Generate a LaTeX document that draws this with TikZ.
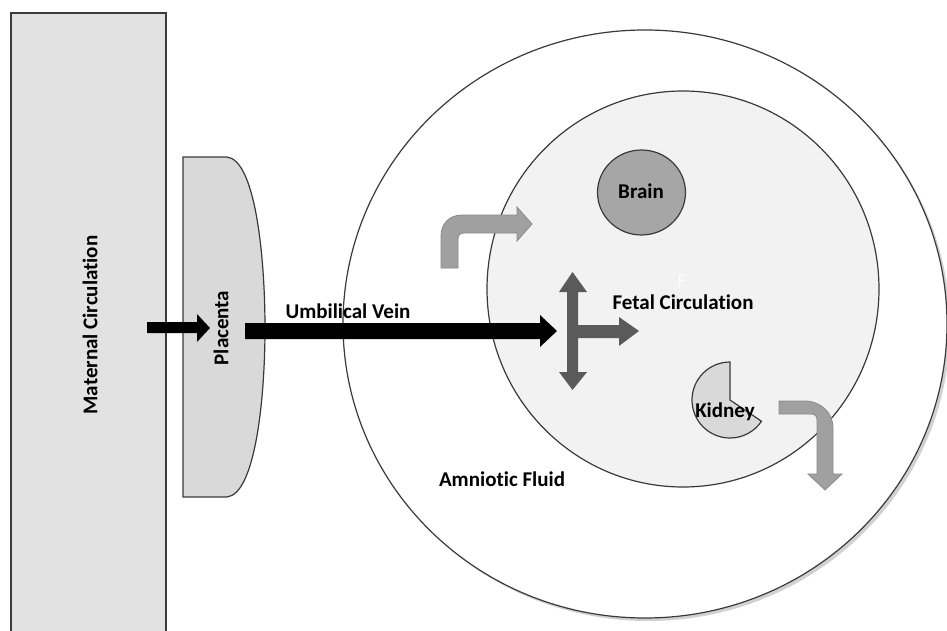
\documentclass[tikz,border=0pt]{standalone}
\usepackage{fontspec}
\setmainfont[Ligatures=NoCommon]{Carlito}
\definecolor{edge}{HTML}{3A3A3A}
\definecolor{matfill}{HTML}{E2E2E2}
\definecolor{plafill}{HTML}{D9D9D9}
\definecolor{fetfill}{HTML}{F2F2F2}
\definecolor{brainfill}{HTML}{A6A6A6}
\definecolor{bentfill}{HTML}{A0A0A0}
\definecolor{bentedge}{HTML}{8A8A8A}
\definecolor{crossfill}{HTML}{5A5A5A}
\tikzset{
  organ/.style={draw=edge,line width=1.2pt},
  lbl/.style={font=\fontsize{21}{25}\selectfont\bfseries,text=black,inner sep=0pt},
  blockblack/.style={fill=black},
  bentarrow/.style={fill=bentfill,draw=bentedge,line width=0.8pt},
  crossarrow/.style={fill=crossfill},
}
\begin{document}
\begin{tikzpicture}[x=1pt,y=-1pt]
\useasboundingbox (0,0) rectangle (947,631);
\clip (0,0) rectangle (947,631);
\fill[white] (0,0) rectangle (947,631);
% maternal circulation
\draw[organ,fill=matfill] (11,13) rectangle (166,645);
\node[lbl,rotate=90] (maternal) at (90,325) {Maternal Circulation};
% placenta
\draw[organ,fill=plafill] (183,157) -- (227,157) .. controls (255,160) and (265,255) .. (265,328)
  .. controls (265,400) and (255,494) .. (227,497) -- (183,497) -- cycle;
\node[lbl,rotate=90] (placenta) at (221,328) {Placenta};
% amniotic sac
\fill[black!18] (648,327) ellipse [x radius=302, y radius=294];
\draw[organ,fill=white] (645,324) ellipse [x radius=302, y radius=294];
\draw[organ,fill=fetfill] (683,289) ellipse [x radius=196, y radius=198];
% brain
\draw[organ,fill=brainfill] (641.5,192.5) ellipse [x radius=44, y radius=42.5];
\node[lbl] (brain) at (641,191) {Brain};
% kidney
\draw[organ,fill=plafill] (730,400) -- (730,362) arc[start angle=-90,end angle=-326,radius=38] -- cycle;
\node[lbl] (kidney) at (725,412) {Kidney};
% black arrows
\fill[blockblack] (147,322) -- (197,322) -- (197,314) -- (210,328) -- (197,342) -- (197,333) -- (147,333) -- cycle;
\fill[blockblack] (245,323) -- (540,323) -- (540,315) -- (557,331) -- (540,347) -- (540,339) -- (245,339) -- cycle;
% bent arrows
\draw[bentarrow] (441,268) -- (441,236) .. controls (441,224) and (449,215) .. (462,215) -- (517,215)
  -- (517,207) -- (532,224) -- (517,241) -- (517,233) -- (464,233)
  .. controls (460,233) and (458,235) .. (458,239) -- (458,268) -- cycle;
\draw[bentarrow] (779,401) -- (805,401) .. controls (820,401) and (833,412) .. (833,428) -- (833,474)
  -- (842,474) -- (825,490) -- (808,474) -- (817,474) -- (817,420)
  .. controls (817,416) and (815,414) .. (811,414) -- (779,414) -- cycle;
% cross arrow
\fill[crossarrow] (572.5,272) -- (587,292) -- (578,292) -- (578,325) -- (619,325) -- (619,317)
  -- (639,331) -- (619,346) -- (619,338) -- (578,338) -- (578,372) -- (587,372) -- (572.5,390)
  -- (559,372) -- (567,372) -- (567,292) -- (559,292) -- cycle;
% labels
\node[lbl] (fetal) at (683,302) {Fetal Circulation};
\node[font=\fontsize{18}{22}\selectfont,text=white,inner sep=0pt] (fmark) at (682,281) {F};
\node[lbl] (umbilical) at (348,311) {Umbilical Vein};
\node[lbl] (amniotic) at (502,479) {Amniotic Fluid};
\end{tikzpicture}
\end{document}
